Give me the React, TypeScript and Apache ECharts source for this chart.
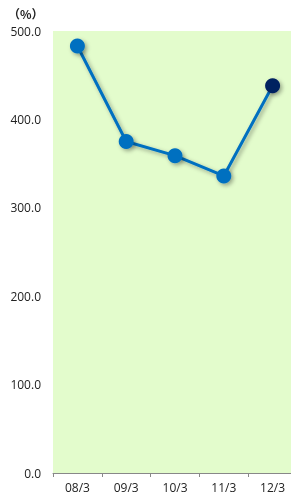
import React, { useEffect, useRef } from "react";
import * as echarts from "echarts";

const categories = ["08/3", "09/3", "10/3", "11/3", "12/3"];
const values = [483, 375, 359, 336, 438];
const yTicks = [0, 100, 200, 300, 400, 500];

export default function App() {
  const ref = useRef<HTMLDivElement>(null);
  useEffect(() => {
    const chart = echarts.init(ref.current!, null, { renderer: "svg" });
    const data = values.map((v, i) => ({
      value: v,
      itemStyle: { color: i === values.length - 1 ? "#002060" : "#0070C0" },
    }));
    chart.setOption({
      animation: false,
      grid: {
        left: 53,
        width: 244,
        top: 31,
        bottom: 22,
        containLabel: false,
        outerBoundsMode: "none",
        show: true,
        backgroundColor: "#E3FCCC",
        borderWidth: 0,
      },
      graphic: [
        {
          type: "text",
          left: 8,
          top: 7,
          style: { text: "（%）", fontSize: 12, fill: "#222", fontFamily: "Noto Sans CJK JP", fontWeight: "bold" },
        },
      ],
      xAxis: {
        type: "category",
        data: categories,
        boundaryGap: true,
        axisLine: { show: true, lineStyle: { color: "#888", width: 1 } },
        axisTick: { show: true, length: 4, lineStyle: { color: "#888" } },
        axisLabel: { color: "#222", fontSize: 12, margin: 8, fontFamily: "Open Sans" },
      },
      yAxis: {
        type: "value",
        min: 0,
        max: 500,
        interval: 100,
        axisLine: { show: false },
        axisTick: { show: false },
        splitLine: { show: false },
        axisLabel: {
          color: "#222",
          fontSize: 12,
          margin: 12,
          fontFamily: "Open Sans",
          formatter: (v: number) => (yTicks.includes(v) ? v.toFixed(1) : ""),
        },
      },
      series: [
        {
          type: "line",
          data,
          symbol: "circle",
          symbolSize: 15,
          lineStyle: {
            color: "#0070C0",
            width: 3,
            shadowColor: "rgba(0,0,0,0.35)",
            shadowBlur: 4,
            shadowOffsetX: 2,
            shadowOffsetY: 2,
          },
          itemStyle: {
            shadowColor: "rgba(0,0,0,0.35)",
            shadowBlur: 4,
            shadowOffsetX: 2,
            shadowOffsetY: 2,
          },
        },
      ],
    });
    return () => chart.dispose();
  }, []);
  return (
    <div
      ref={ref}
      style={{ position: "fixed", left: 0, top: 0, width: 291, height: 495 }}
    />
  );
}
